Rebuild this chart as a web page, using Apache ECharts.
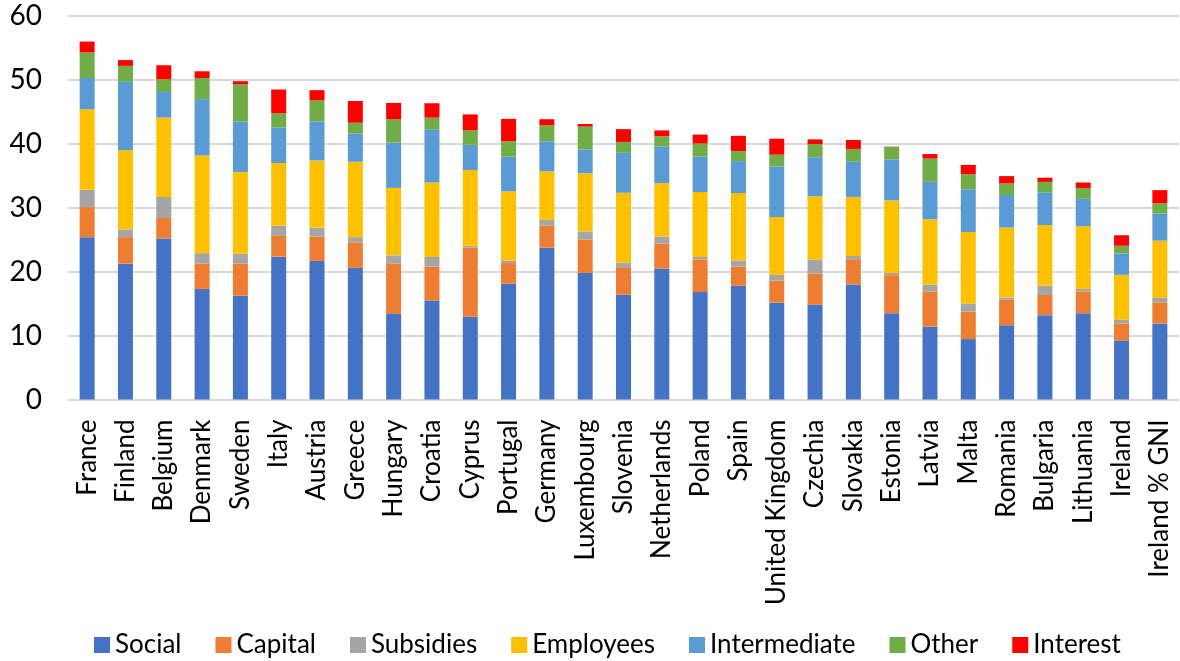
<!DOCTYPE html>
<html>
<head>
<meta charset="utf-8">
<script src="https://cdn.jsdelivr.net/npm/echarts@6/dist/echarts.min.js"></script>
<style>
html,body{margin:0;padding:0;background:#fff;}
#chart{width:1180px;height:661px;}
</style>
</head>
<body>
<div id="chart"></div>
<script>
const categories = ["France","Finland","Belgium","Denmark","Sweden","Italy","Austria","Greece","Hungary","Croatia","Cyprus","Portugal","Germany","Luxembourg","Slovenia","Netherlands","Poland","Spain","United Kingdom","Czechia","Slovakia","Estonia","Latvia","Malta","Romania","Bulgaria","Lithuania","Ireland","Ireland % GNI"];
const yTicks = [0,10,20,30,40,50,60];
const social       = [25.4,21.25,25.2,17.3,16.25,22.35,21.7,20.6,13.4,15.5,12.95,18.1,23.75,19.8,16.4,20.5,16.8,17.8,15.15,14.85,18.0,13.5,11.4,9.45,11.6,13.2,13.5,9.25,11.9];
const capital      = [4.7,4.15,3.2,3.95,5.0,3.25,3.8,4.0,7.9,5.3,10.8,3.25,3.45,5.25,4.3,3.9,5.1,3.0,3.45,4.85,3.95,5.95,5.5,4.3,4.0,3.15,3.4,2.65,3.3];
const subsidies    = [2.7,1.2,3.3,1.65,1.55,1.6,1.4,0.8,1.25,1.5,0.3,0.4,0.9,1.25,0.7,1.1,0.4,0.95,0.9,2.2,0.5,0.35,1.05,1.25,0.35,1.45,0.4,0.6,0.75];
const employees    = [12.6,12.4,12.4,15.3,12.8,9.8,10.5,11.8,10.55,11.65,11.85,10.8,7.6,9.1,10.95,8.35,10.15,10.55,9.05,9.9,9.25,11.35,10.25,11.2,10.95,9.5,9.8,7.0,8.9];
const intermediate = [4.9,10.7,4.0,8.8,7.9,5.55,6.1,4.4,7.1,8.25,3.95,5.45,4.7,3.7,6.25,5.75,5.55,5.0,7.9,6.1,5.5,6.4,5.85,6.7,5.1,5.05,4.3,3.35,4.25];
const other        = [4.0,2.5,2.0,3.3,5.8,2.25,3.3,1.7,3.65,1.9,2.25,2.4,2.5,3.6,1.7,1.6,2.05,1.55,1.85,2.05,2.0,1.95,3.65,2.35,1.8,1.7,1.7,1.2,1.6];
const interest     = [1.7,0.9,2.2,1.05,0.5,3.7,1.6,3.4,2.55,2.25,2.5,3.5,0.95,0.4,2.0,0.9,1.4,2.4,2.5,0.75,1.4,0.05,0.7,1.45,1.15,0.65,0.85,1.65,2.05];

const seriesNames = ["Social","Capital","Subsidies","Employees","Intermediate","Other","Interest"];
const seriesData = [social,capital,subsidies,employees,intermediate,other,interest];
const colors = ["#4472C4","#ED7D31","#A5A5A5","#FFC000","#5B9BD5","#70AD47","#FF0000"];

const FONT = "Lato";
const chart = echarts.init(document.getElementById('chart'));
chart.setOption({
  animation:false,
  color:colors,
  grid:{left:68,right:1,top:16,bottom:261.5,containLabel:false},
  legend:{
    data:seriesNames,
    top:627,
    left:89,
    icon:'rect',
    itemWidth:16,itemHeight:16,itemGap:34,
    textStyle:{fontFamily:FONT,fontSize:26,color:'#000'}
  },
  xAxis:{
    type:'category',
    data:categories,
    axisLine:{show:false},
    axisTick:{show:false},
    axisLabel:{rotate:90,interval:0,margin:20,fontFamily:FONT,fontSize:26,color:'#000'}
  },
  yAxis:{
    type:'value',
    min:yTicks[0],max:yTicks[yTicks.length-1],interval:10,
    axisLine:{show:false},axisTick:{show:false},
    axisLabel:{margin:26,fontFamily:FONT,fontSize:28,color:'#000'},
    splitLine:{lineStyle:{color:'#D9D9D9',width:2}}
  },
  series:seriesNames.map((n,i)=>({
    name:n,type:'bar',stack:'total',barWidth:15,
    data:seriesData[i],
    itemStyle:{color:colors[i]}
  }))
});
</script>
</body>
</html>
